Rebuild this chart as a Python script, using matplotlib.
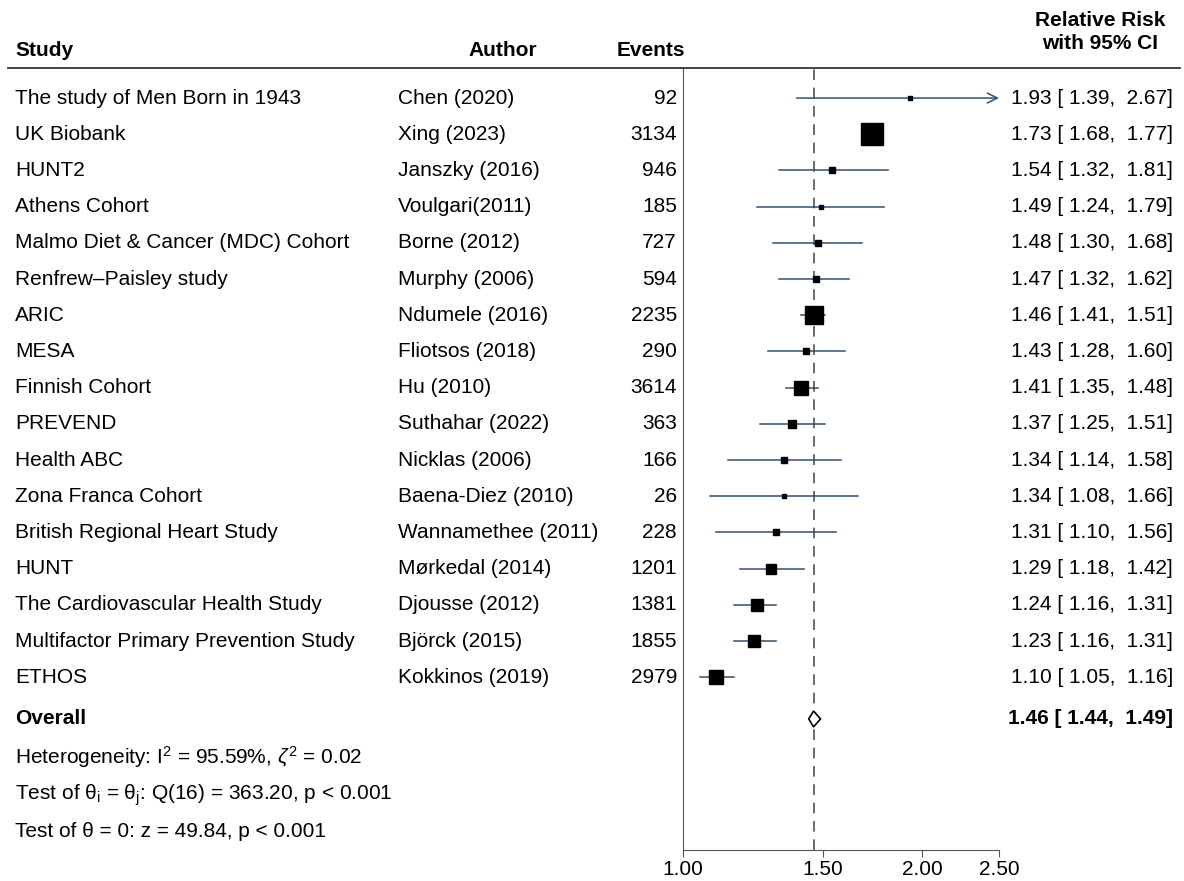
import matplotlib.pyplot as plt
import matplotlib.transforms as mtransforms
from matplotlib.patches import Polygon
from matplotlib.lines import Line2D
import numpy as np

plt.rcParams['font.family'] = ['Liberation Sans', 'DejaVu Sans']
plt.rcParams['mathtext.fontset'] = 'custom'
plt.rcParams['mathtext.rm'] = 'Liberation Sans'
plt.rcParams['mathtext.it'] = 'Liberation Sans:italic'

studies = ["The study of Men Born in 1943", "UK Biobank", "HUNT2", "Athens Cohort",
           "Malmo Diet & Cancer (MDC) Cohort", "Renfrew\u2013Paisley study", "ARIC", "MESA",
           "Finnish Cohort", "PREVEND", "Health ABC", "Zona Franca Cohort",
           "British Regional Heart Study", "HUNT", "The Cardiovascular Health Study",
           "Multifactor Primary Prevention Study", "ETHOS"]
authors = ["Chen (2020)", "Xing (2023)", "Janszky (2016)", "Voulgari(2011)", "Borne (2012)",
           "Murphy (2006)", "Ndumele (2016)", "Fliotsos (2018)", "Hu (2010)", "Suthahar (2022)",
           "Nicklas (2006)", "Baena-Diez (2010)", "Wannamethee (2011)", "M\u00f8rkedal (2014)",
           "Djousse (2012)", "Bj\u00f6rck (2015)", "Kokkinos (2019)"]
events = [92, 3134, 946, 185, 727, 594, 2235, 290, 3614, 363, 166, 26, 228, 1201, 1381, 1855, 2979]
rr = [1.93, 1.73, 1.54, 1.49, 1.48, 1.47, 1.46, 1.43, 1.41, 1.37, 1.34, 1.34, 1.31, 1.29, 1.24, 1.23, 1.10]
lo = [1.39, 1.68, 1.32, 1.24, 1.30, 1.32, 1.41, 1.28, 1.35, 1.25, 1.14, 1.08, 1.10, 1.18, 1.16, 1.16, 1.05]
hi = [2.67, 1.77, 1.81, 1.79, 1.68, 1.62, 1.51, 1.60, 1.48, 1.51, 1.58, 1.66, 1.56, 1.42, 1.31, 1.31, 1.16]
# square side (points) ~ study weight
weight_size = [3, 16.5, 4.5, 3.5, 5, 5, 13, 5, 10, 5.5, 4.5, 3.5, 4.5, 6.5, 8, 8, 9.5]

overall = (1.46, 1.44, 1.49)
stats = ["Heterogeneity: I$^2$ = 95.59%, $\\zeta^2$ = 0.02",
         "Test of \u03b8$_{\\rm i}$ = \u03b8$_{\\rm j}$: Q(16) = 363.20, p < 0.001",
         "Test of \u03b8 = 0: z = 49.84, p < 0.001"]

xticks = [1.0, 1.5, 2.0, 2.5]
xlim = (1.0, 2.5)

W, H = 1184, 881
fig = plt.figure(figsize=(W / 100, H / 100), dpi=100)
ax = fig.add_axes([683 / W, 1 - 850 / H, (999 - 683) / W, (850 - 68) / H])

n = len(studies)
ypos = np.arange(n)
y_overall = 17.15
y_stats = [18.2, 19.25, 20.27]
ax.set_ylim(20.77, -0.83)
ax.set_xscale('log')
ax.set_xlim(*xlim)

line_col = '#34506f'
fs = 15

for i in range(n):
    if hi[i] > xlim[1]:
        ax.annotate('', xy=(xlim[1], ypos[i]), xytext=(lo[i], ypos[i]),
                    arrowprops=dict(arrowstyle='->', color=line_col, lw=1.1,
                                    shrinkA=0, shrinkB=0, mutation_scale=18),
                    annotation_clip=False)
    else:
        ax.plot([lo[i], hi[i]], [ypos[i], ypos[i]], color=line_col, lw=1.1)
    ax.plot(rr[i], ypos[i], marker='s', color='black', markersize=weight_size[i], zorder=3)

# pooled estimate
est, olo, ohi = overall
dh = 0.22
ax.add_patch(Polygon([[olo, y_overall], [est, y_overall - dh], [ohi, y_overall], [est, y_overall + dh]],
                     closed=True, facecolor='white', edgecolor='black', lw=1.2, zorder=4))
ax.axvline(est, color='#444444', lw=1.1, dashes=(7, 5), zorder=2)

ax.spines['top'].set_visible(False)
ax.spines['right'].set_visible(False)
ax.spines['left'].set_color('#555555')
ax.spines['bottom'].set_color('#555555')
ax.set_yticks([])
ax.set_xticks(xticks)
ax.set_xticklabels(['%.2f' % t for t in xticks], fontsize=fs)
ax.xaxis.set_minor_locator(plt.NullLocator())
ax.tick_params(axis='x', length=5, color='#555555', pad=2)

tr = mtransforms.blended_transform_factory(fig.transFigure, ax.transData)
for i in range(n):
    ax.text(15 / W, ypos[i], studies[i], transform=tr, ha='left', va='center', fontsize=fs)
    ax.text(398 / W, ypos[i], authors[i], transform=tr, ha='left', va='center', fontsize=fs)
    ax.text(677 / W, ypos[i], str(events[i]), transform=tr, ha='right', va='center', fontsize=fs)
    ax.text(1173 / W, ypos[i], '%.2f [ %.2f,  %.2f]' % (rr[i], lo[i], hi[i]), transform=tr,
            ha='right', va='center', fontsize=fs)

ax.text(15 / W, y_overall, 'Overall', transform=tr, ha='left', va='center', fontsize=fs, fontweight='bold')
ax.text(1173 / W, y_overall, '%.2f [ %.2f,  %.2f]' % overall, transform=tr, ha='right', va='center',
        fontsize=fs, fontweight='bold')
for s, y in zip(stats, y_stats):
    ax.text(15 / W, y, s, transform=tr, ha='left', va='center', fontsize=fs)

# header
hy = 1 - 50 / H
fig.text(15 / W, hy, 'Study', ha='left', va='center', fontsize=fs, fontweight='bold')
fig.text(537 / W, hy, 'Author', ha='right', va='center', fontsize=fs, fontweight='bold')
fig.text(685 / W, hy, 'Events', ha='right', va='center', fontsize=fs, fontweight='bold')
fig.text(1100 / W, 1 - 32 / H, 'Relative Risk\nwith 95% CI', ha='center', va='center',
         fontsize=fs, fontweight='bold', linespacing=1.3)
fig.add_artist(Line2D([8 / W, 1180 / W], [1 - 68 / H, 1 - 68 / H], color='#333333', lw=1.3))

fig.savefig('out.png', dpi=100)
